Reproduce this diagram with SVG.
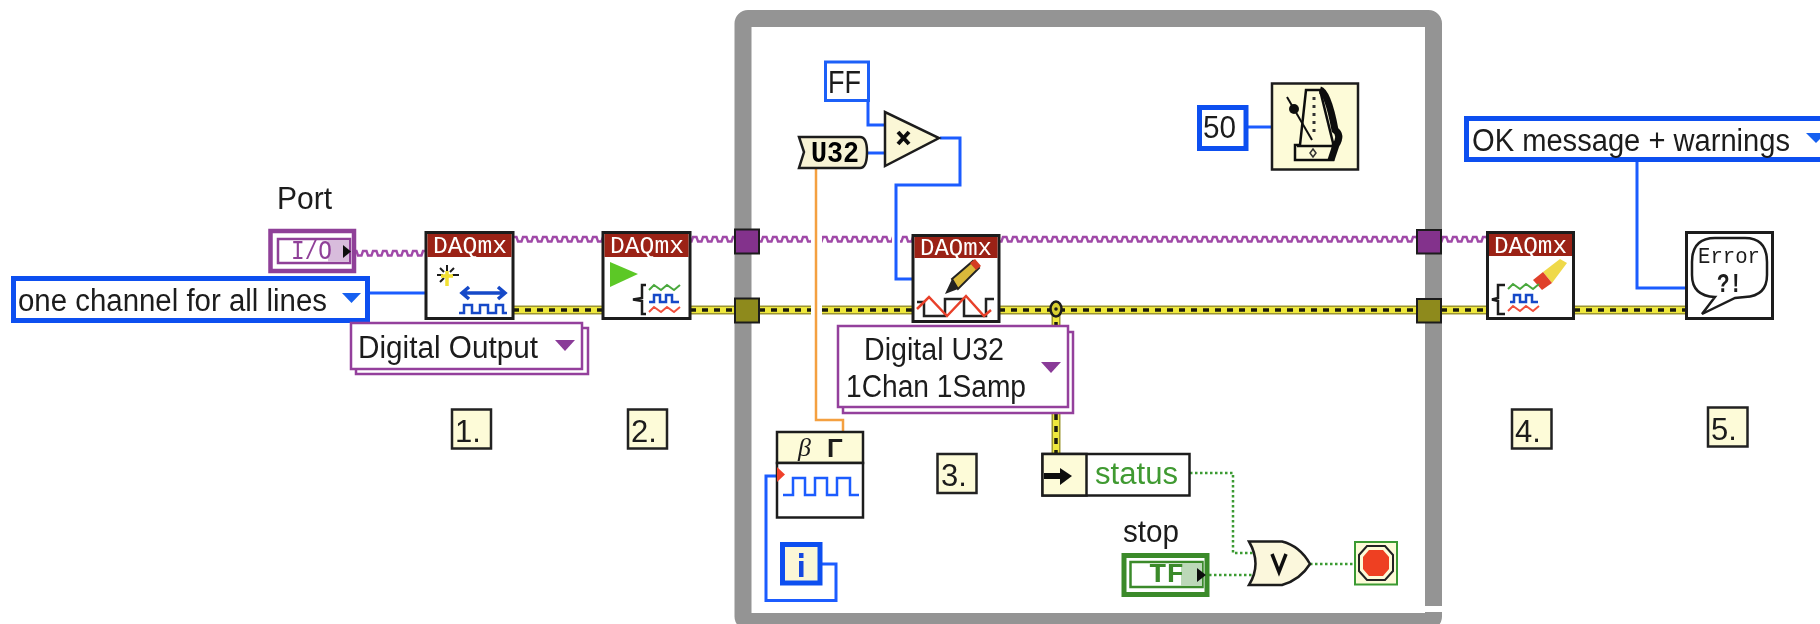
<svg xmlns="http://www.w3.org/2000/svg" width="1820" height="624" viewBox="0 0 1820 624">
<style>
text{font-family:"Liberation Sans",Arial,sans-serif;font-size:31px;fill:#1a1a1a}
.mono{font-family:"Liberation Mono","DejaVu Sans Mono",monospace}
.dq{font-family:"Liberation Mono",monospace;font-size:24px;fill:#fff}
.box{fill:#fff;stroke:#1c1c1c;stroke-width:3}
.hdr{fill:#9b2415}
.note{fill:#fdfbd8;stroke:#222;stroke-width:2.5}
.ring{fill:#fff;stroke:#0f50f0;stroke-width:5}
.ring2{fill:#fff;stroke:#1f60f8;stroke-width:3}
.pur{fill:#fff;stroke:#94409c;stroke-width:2.5}
.blue{fill:none;stroke:#1a5cff;stroke-width:3}
.or{fill:none;stroke:#f4a040;stroke-width:2.5}
.grn{fill:none;stroke:#3a9a30;stroke-width:2.5;stroke-dasharray:2.5 2.5}
.e1{fill:none;stroke:#9c9530;stroke-width:9}
.e2{fill:none;stroke:#efe83c;stroke-width:6}
.e3{fill:none;stroke:#1c1c10;stroke-width:3.5;stroke-dasharray:6 6}
.wave{fill:url(#wave)}
.tri-b{fill:#1560f0}
.tri-p{fill:#8a3a98}
.ic-b{fill:none;stroke:#1448c8;stroke-width:2.5}
.ic-g{fill:none;stroke:#4aa83c;stroke-width:2}
.ic-r{fill:none;stroke:#f0503c;stroke-width:2}
.ic-k{fill:none;stroke:#1c1c1c;stroke-width:2.5}
</style>
<defs>
<pattern id="wave" patternUnits="userSpaceOnUse" x="0" y="235" width="10" height="14">
<path d="M0 6.5H1.5L3 2H6.5L8 6.5H10" fill="none" stroke="#a04aa8" stroke-width="2.4"/>
</pattern>
<path id="err" d="M513 310H602M690 310H735M759 310H811M822 310H912M999 310H1417M1441 310H1487M1574 310H1686M1056 310V326M1056 414V453"/>
<filter id="soft" filterUnits="userSpaceOnUse" x="0" y="0" width="1820" height="624"><feGaussianBlur stdDeviation="0.7"/></filter>
<path id="tri3" d="M0 6l5-5 7 5 6-5 7 5 6-5"/>
</defs>
<rect width="1820" height="624" fill="#fff"/>
<g filter="url(#soft)">
<g id="loop">
<rect x="743" y="18.500" width="690.500" height="603" rx="5" fill="#fff" stroke="#949494" stroke-width="17"/>
<rect x="1424" y="606" width="20" height="6" fill="#fff"/>
</g>
<g id="connectors">
<rect class="wave" x="356" y="249" width="70" height="8"/>
<rect class="wave" x="513" y="235" width="89" height="8"/>
<rect class="wave" x="690" y="235" width="45" height="8"/>
<rect class="wave" x="759" y="235" width="52" height="8"/>
<rect class="wave" x="822" y="235" width="70" height="8"/>
<rect class="wave" x="900" y="235" width="12" height="8"/>
<rect class="wave" x="999" y="235" width="418" height="8"/>
<rect class="wave" x="1441" y="235" width="46" height="8"/>
<use href="#err" class="e1"/><use href="#err" class="e2"/><use href="#err" class="e3"/>
<path class="blue" d="M370 293H426"/>
<path class="blue" d="M868 100V125H884"/>
<path class="blue" d="M867 153H884"/>
<path class="blue" d="M940 138H960V185H896V279H912"/>
<path class="blue" d="M1248 127H1271"/>
<path class="blue" d="M1637 162V288H1686"/>
<path class="blue" d="M822 564H836V600.500H766V476H778"/>
<path class="or" d="M816 168V420H843V431"/>
<path class="grn" d="M1190 473H1233V553H1257"/>
<path class="grn" d="M1209 575H1256"/>
<path class="grn" d="M1310 564H1354"/>
</g>
<g id="tunnels">
<rect x="735" y="229.500" width="24" height="24" fill="#83308c" stroke="#1c1c1c" stroke-width="2"/>
<rect x="735" y="298.500" width="24" height="24" fill="#8e8a1e" stroke="#1c1c1c" stroke-width="2"/>
<rect x="1417" y="230" width="24" height="23.500" fill="#83308c" stroke="#1c1c1c" stroke-width="2"/>
<rect x="1417" y="299" width="24" height="23.500" fill="#8e8a1e" stroke="#1c1c1c" stroke-width="2"/>
</g>
<g id="port">
<text x="277" y="209" textLength="55" lengthAdjust="spacingAndGlyphs">Port</text>
<rect x="270.500" y="231" width="83.500" height="40" fill="#fff" stroke="#8f3f98" stroke-width="4.500"/>
<rect x="278" y="239" width="72" height="24" fill="#fff" stroke="#8f3f98" stroke-width="2.500"/>
<rect x="328" y="240" width="21" height="22" fill="#d8bcdc"/>
<text class="mono" x="291" y="259" textLength="41" lengthAdjust="spacingAndGlyphs" style="font-size:27px;fill:#8f3f98">I/O</text>
<path d="M343 245L351 251.500L343 258Z" fill="#111"/>
</g>
<g id="line-grouping">
<rect class="ring" x="13.500" y="278.500" width="354" height="42"/>
<text x="18" y="310.500" textLength="309" lengthAdjust="spacingAndGlyphs">one channel for all lines</text>
<path class="tri-b" d="M342 293H361L351.500 303Z"/>
</g>
<g id="digital-output">
<rect class="pur" x="356" y="328" width="232" height="46"/>
<rect class="pur" x="351" y="323" width="231" height="46"/>
<text x="358" y="358" textLength="180" lengthAdjust="spacingAndGlyphs">Digital Output</text>
<path class="tri-p" d="M555 340H575L565 351Z"/>
</g>
<g id="daqmx-create">
<rect class="box" x="426" y="232.500" width="87" height="86"/>
<rect class="hdr" x="427.500" y="234" width="84" height="23"/>
<text class="dq" x="433" y="253" textLength="74" lengthAdjust="spacingAndGlyphs">DAQmx</text>
<path d="M447 265V271M447 279V286M437 275H443M452 275H459M440 268L444 272M454 268L450 272M440 282L444 278" class="ic-k" style="stroke-width:2"/>
<path d="M447 271V286M441 276H453" fill="none" stroke="#f2e030" stroke-width="3.500"/>
<path d="M464 293H503M469 287L462 293L469 299M498 287L505 293L498 299" fill="none" stroke="#1448c8" stroke-width="3.500"/>
<path class="ic-b" d="M459 313H464V305H472V313H480V305H488V313H496V305H503V313H507"/>
</g>
<g id="daqmx-start">
<rect class="box" x="603" y="232.500" width="87" height="86"/>
<rect class="hdr" x="604.500" y="234" width="84" height="23"/>
<text class="dq" x="610" y="253" textLength="74" lengthAdjust="spacingAndGlyphs">DAQmx</text>
<path d="M610 262V287L638 274Z" fill="#5cc828"/>
<path class="ic-k" d="M646 285H642V298L633 299.500L642 301V314H646"/>
<use href="#tri3" transform="translate(649 284)" class="ic-g"/>
<path class="ic-b" d="M649 302H654V295H660V302H666V295H672V302H679"/>
<use href="#tri3" transform="translate(649 306)" class="ic-r"/>
</g>
<g id="daqmx-write">
<rect class="box" x="913" y="235.500" width="86" height="86"/>
<rect class="hdr" x="914.500" y="237" width="83" height="21"/>
<text class="dq" x="920" y="255" textLength="72" lengthAdjust="spacingAndGlyphs">DAQmx</text>
<path d="M952 279L973 261L979 268L958 289Z" fill="#d9b93a" stroke="#222" stroke-width="2"/>
<path d="M970 263L975 259L981 266L976 270Z" fill="#d43a20"/>
<path d="M952 279L958 289L945 294Z" fill="#222"/>
<path d="M917 302H924V316H945V299H964V316H986V299H994" fill="none" stroke="#222" stroke-width="2.500"/>
<path d="M917 309L929 297L947 316L966 296L984 316L991 310" fill="none" stroke="#e8412a" stroke-width="2.500"/>
</g>
<g id="daqmx-clear">
<rect class="box" x="1487.500" y="232.500" width="86" height="86"/>
<rect class="hdr" x="1489" y="234" width="83" height="22"/>
<text class="dq" x="1494" y="253" textLength="73" lengthAdjust="spacingAndGlyphs">DAQmx</text>
<path d="M1543 272L1560 259L1567 263L1552 283Z" fill="#efd94a"/>
<path d="M1533 280L1543 272L1552 283L1542 290Z" fill="#e0402a"/>
<path class="ic-k" d="M1505 285H1498V298L1492 299.500L1498 301V314H1505"/>
<use href="#tri3" transform="translate(1508 283)" class="ic-g"/>
<path class="ic-b" d="M1510 302H1514V295H1520V302H1526V295H1532V302H1538"/>
<use href="#tri3" transform="translate(1508 305)" class="ic-r"/>
</g>
<g id="error-handler">
<rect class="box" x="1686.500" y="232.500" width="86" height="86"/>
<path d="M1715 238H1745Q1767 238 1767 262V275Q1767 296 1745 297L1735 298L1702 314L1715 297Q1692 296 1692 275V262Q1692 238 1715 238Z" fill="#fff" stroke="#1c1c1c" stroke-width="2.500"/>
<text class="mono" x="1698" y="263" textLength="62" lengthAdjust="spacingAndGlyphs" style="font-size:22px">Error</text>
<text class="mono" x="1717" y="292" textLength="25" lengthAdjust="spacingAndGlyphs" style="font-size:28px;font-weight:bold">?!</text>
</g>
<g id="ok-message">
<rect class="ring" x="1466.500" y="118.500" width="360" height="41"/>
<text x="1472" y="151" textLength="318" lengthAdjust="spacingAndGlyphs">OK message + warnings</text>
<path class="tri-b" d="M1806 133H1826L1816 143Z"/>
</g>
<g id="ff-const">
<rect class="ring2" x="825.500" y="62" width="43" height="38.500"/>
<text x="828" y="92.500" textLength="33" lengthAdjust="spacingAndGlyphs">FF</text>
</g>
<g id="u32">
<path d="M799 137H860Q867 137 867 152Q867 168 860 168H799L804 152Z" fill="#f7f2d4" stroke="#1c1c1c" stroke-width="2.500"/>
<text class="mono" x="811" y="162" textLength="48" lengthAdjust="spacingAndGlyphs" style="font-size:30px;font-weight:bold;fill:#000">U32</text>
</g>
<g id="multiply">
<path d="M885 112V166L939 138Z" fill="#fbf7d6" stroke="#1c1c1c" stroke-width="2.500"/>
<path d="M898 132L909 144M909 132L898 144" stroke="#111" stroke-width="4" fill="none"/>
</g>
<g id="wait-const">
<rect class="ring" x="1199.500" y="107.500" width="46.500" height="41"/>
<text x="1203" y="138" textLength="33" lengthAdjust="spacingAndGlyphs">50</text>
</g>
<g id="metronome">
<rect x="1272" y="83.500" width="86" height="86" fill="#fdfbd8" stroke="#1c1c1c" stroke-width="2.500"/>
<path d="M1306 90H1320L1333 143V160H1295V145H1300Z" fill="#fdfbd8" stroke="#111" stroke-width="2.500"/>
<path d="M1320 90Q1328 92 1335 130Q1342 135 1336 145L1331 160" fill="none" stroke="#111" stroke-width="7"/>
<path d="M1297 146H1332" stroke="#111" stroke-width="2.500"/>
<path d="M1287 97L1312 140" stroke="#111" stroke-width="2"/>
<circle cx="1294" cy="109" r="5" fill="#111"/>
<path d="M1314 97V135" stroke="#333" stroke-width="3" stroke-dasharray="3 5"/>
<path d="M1313 149L1316 153L1313 157L1310 153Z" fill="none" stroke="#333" stroke-width="1.500"/>
</g>
<g id="digital-u32">
<rect class="pur" x="843" y="332" width="230" height="81"/>
<rect class="pur" x="838" y="326" width="230" height="81"/>
<text x="864" y="360" textLength="140" lengthAdjust="spacingAndGlyphs">Digital U32</text>
<text x="846" y="397" textLength="180" lengthAdjust="spacingAndGlyphs">1Chan 1Samp</text>
<path class="tri-p" d="M1041 362H1061L1051 373Z"/>
</g>
<g id="junction">
<ellipse cx="1056" cy="309" rx="5.500" ry="7.500" fill="#d8cf30" stroke="#1c1c1c" stroke-width="2.500"/>
<circle cx="1056" cy="309" r="1.800" fill="#1c1c1c"/>
</g>
<g id="bit-ops">
<rect x="777" y="432" width="86" height="31" fill="#fdfbd8" stroke="#1c1c1c" stroke-width="2.500"/>
<rect x="777" y="463" width="86" height="54.500" fill="#fff" stroke="#1c1c1c" stroke-width="2.500"/>
<text x="798" y="456" style="font-size:26px;font-style:italic;font-family:'Liberation Serif',serif">β</text>
<text x="827" y="457" style="font-size:26px;font-weight:bold;font-family:'Liberation Sans',sans-serif">Γ</text>
<path d="M777 467L785 474.500L777 482Z" fill="#f0402a"/>
<path d="M783 495H793V478H805V495H815V478H827V495H837V478H850V495H859" fill="none" stroke="#1a5cff" stroke-width="2.500"/>
</g>
<g id="iteration">
<rect x="782.500" y="544.500" width="37.500" height="38.500" fill="#fbf7d6" stroke="#0f50f0" stroke-width="5"/>
<rect x="799" y="553" width="4.500" height="5" fill="#1448e0"/>
<rect x="799" y="561" width="4.500" height="16" fill="#1448e0"/>
</g>
<g id="unbundle">
<rect x="1042.500" y="454" width="147" height="41.500" fill="#fff" stroke="#1c1c1c" stroke-width="2.500"/>
<rect x="1042.500" y="454" width="44" height="41.500" fill="#fdfbd8" stroke="#1c1c1c" stroke-width="2.500"/>
<path d="M1044 473H1060V468L1072 476L1060 485V479H1044Z" fill="#111"/>
<text x="1095" y="484" textLength="83" lengthAdjust="spacingAndGlyphs" style="fill:#3f9a30">status</text>
</g>
<g id="stop-ctl">
<text x="1123" y="542" textLength="56" lengthAdjust="spacingAndGlyphs">stop</text>
<rect x="1124" y="555.500" width="83" height="39" fill="#fff" stroke="#3a8a2c" stroke-width="5"/>
<rect x="1130.500" y="562" width="72" height="25" fill="#fff" stroke="#3a8a2c" stroke-width="2.500"/>
<rect x="1181" y="563" width="21" height="23" fill="#bcd8b8"/>
<text class="mono" x="1149" y="582" textLength="35" lengthAdjust="spacingAndGlyphs" style="font-size:27px;font-weight:bold;fill:#3a8a2c">TF</text>
<path d="M1197 568L1206 575L1197 582Z" fill="#111"/>
</g>
<g id="or-gate">
<path d="M1249 541.500H1282Q1300 546 1310 564Q1300 580 1282 585H1249Q1262 564 1249 541.500Z" fill="#fbf7dc" stroke="#1c1c1c" stroke-width="2.500"/>
<path d="M1272 554L1279 572L1286 554" fill="none" stroke="#111" stroke-width="3.500"/>
</g>
<g id="loop-cond">
<rect x="1355" y="542" width="42" height="42.500" fill="#fdfbd8" stroke="#3a9a30" stroke-width="2"/>
<path d="M1367 546H1385L1393 555V571L1385 580H1367L1359 571V555Z" fill="#fdfbd8" stroke="#222" stroke-width="2"/>
<path d="M1369 550H1383L1389 557V569L1383 576H1369L1363 569V557Z" fill="#ee4020"/>
</g>
<g id="notes">
<rect class="note" x="452" y="409.500" width="39" height="39"/><text x="455" y="441.500">1.</text>
<rect class="note" x="628" y="409.500" width="39" height="39"/><text x="631" y="441.500">2.</text>
<rect class="note" x="937.500" y="454" width="39" height="39"/><text x="941" y="485.500">3.</text>
<rect class="note" x="1512" y="409.500" width="39.500" height="39"/><text x="1515" y="441.500">4.</text>
<rect class="note" x="1708" y="407.500" width="39.500" height="39"/><text x="1711" y="439.500">5.</text>
</g>
</g>
</svg>
